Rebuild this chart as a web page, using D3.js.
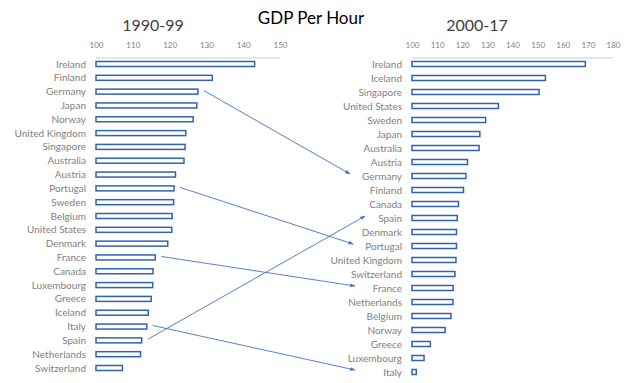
<!DOCTYPE html>
<html>
<head>
<meta charset="utf-8">
<script src="https://cdn.jsdelivr.net/npm/d3@7"></script>
<style>
  body { margin: 0; background: #fff; }
  svg { font-family: Lato, "Open Sans", sans-serif; }
</style>
</head>
<body>
<svg id="chart" width="640" height="383"></svg>
<script>
// 1990-99 ranking
const countries1990 = ["Ireland", "Finland", "Germany", "Japan", "Norway", "United Kingdom", "Singapore",
    "Australia", "Austria", "Portugal", "Sweden", "Belgium", "United States", "Denmark", "France",
    "Canada", "Luxembourg", "Greece", "Iceland", "Italy", "Spain", "Netherlands", "Switzerland"];
const values1990 = [143.1, 131.6, 127.7, 127.4, 126.4, 124.4, 124.2, 123.9, 121.6, 121.2, 121.1,
    120.7, 120.6, 119.5, 116.1, 115.5, 115.4, 115.0, 114.2, 113.8, 112.4, 112.1, 107.2];

// 2000-17 ranking
const countries2000 = ["Ireland", "Iceland", "Singapore", "United States", "Sweden", "Japan", "Australia",
    "Austria", "Germany", "Finland", "Canada", "Spain", "Denmark", "Portugal", "United Kingdom",
    "Switzerland", "France", "Netherlands", "Belgium", "Norway", "Greece", "Luxembourg", "Italy"];
const values2000 = [169.0, 153.1, 150.6, 134.4, 129.3, 127.0, 126.7, 122.1, 121.5, 120.5, 118.5,
    118.0, 117.7, 117.7, 117.5, 117.1, 116.4, 116.3, 115.5, 113.2, 107.3, 104.8, 101.7];

const ticks1990 = [100, 110, 120, 130, 140, 150];
const ticks2000 = [100, 110, 120, 130, 140, 150, 160, 170, 180];

// countries linked by arrows
const movers = ["Germany", "Portugal", "France", "Italy", "Spain"];

const svg = d3.select("#chart");
const blue = "#2e62b8";
const gray = "#7f7f7f";

svg.append("defs").append("marker")
    .attr("id", "arrow")
    .attr("viewBox", "0 0 10 10")
    .attr("refX", 9)
    .attr("refY", 5)
    .attr("markerWidth", 6)
    .attr("markerHeight", 6)
    .attr("orient", "auto")
    .append("path")
    .attr("d", "M0,1.5 L10,5 L0,8.5 Z")
    .attr("fill", "#4472c4");

svg.append("text")
    .attr("x", 311)
    .attr("y", 24)
    .attr("text-anchor", "middle")
    .attr("font-size", "17px")
    .attr("fill", "#000")
    .text("GDP Per Hour");

function panel(title, titleX, cats, vals, ticks, xRange, yRange) {
    const x = d3.scaleLinear().domain([ticks[0], ticks[ticks.length - 1]]).range(xRange);
    const y = d3.scalePoint().domain(cats).range(yRange);
    const g = svg.append("g");

    g.append("text")
        .attr("x", titleX)
        .attr("y", 31)
        .attr("text-anchor", "middle")
        .attr("font-size", "16px")
        .attr("fill", "#404040")
        .text(title);

    // top axis: light bar plus tick labels
    g.append("line")
        .attr("x1", xRange[0]).attr("x2", xRange[1])
        .attr("y1", 58).attr("y2", 58)
        .attr("stroke", "#e6e6e6")
        .attr("stroke-width", 2);

    const axis = g.append("g")
        .attr("transform", "translate(0,48)")
        .call(d3.axisTop(x).tickValues(ticks).tickSize(0).tickPadding(0));
    axis.select(".domain").remove();
    axis.selectAll("text")
        .attr("font-family", "Lato, 'Open Sans', sans-serif")
        .attr("font-size", "8px")
        .attr("fill", gray);

    const labels = g.selectAll(".lab")
        .data(cats)
        .enter()
        .append("text")
        .attr("class", "lab")
        .attr("x", xRange[0] - 10)
        .attr("y", d => y(d))
        .attr("dy", "0.35em")
        .attr("text-anchor", "end")
        .attr("font-size", "10px")
        .attr("fill", gray)
        .text(d => d);

    g.selectAll(".bar")
        .data(vals)
        .enter()
        .append("rect")
        .attr("class", "bar")
        .attr("x", x(ticks[0]))
        .attr("y", (d, i) => y(cats[i]) - 2.5)
        .attr("width", d => x(d) - x(ticks[0]))
        .attr("height", 5)
        .attr("fill", "#fff")
        .attr("stroke", blue)
        .attr("stroke-width", 1.5);

    return { x, y, labels };
}

const left = panel("1990-99", 153, countries1990, values1990, ticks1990, [96, 280], [64, 368]);
const right = panel("2000-17", 477, countries2000, values2000, ticks2000, [412, 613], [64, 372]);

// arrows from the old bar to the new label
movers.forEach(c => {
    const v = values1990[countries1990.indexOf(c)];
    const x1 = left.x(v) + 6;
    const y1 = left.y(c) - 1;
    const labelNode = right.labels.filter(d => d === c).node();
    const labelStart = labelNode.getBBox().x;
    const y2 = right.y(c) - 2;
    const x2 = y2 < y1 ? labelStart - 13 : Math.min(labelStart - 12, 355);
    svg.append("line")
        .attr("x1", x1).attr("y1", y1)
        .attr("x2", x2).attr("y2", y2)
        .attr("stroke", "#4472c4")
        .attr("stroke-width", 0.9)
        .attr("marker-end", "url(#arrow)");
});
</script>
</body>
</html>
